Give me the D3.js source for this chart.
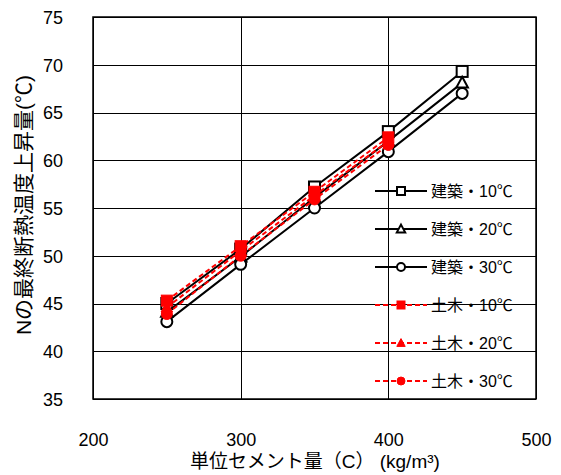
<!DOCTYPE html>
<html>
<head>
<meta charset="utf-8">
<script src="https://cdn.jsdelivr.net/npm/d3@7"></script>
<style>
  html, body { margin: 0; padding: 0; background: #fff; }
  svg { display: block; }
  text { font-family: "Liberation Sans", "Noto Sans CJK JP", sans-serif; fill: #000; }
</style>
</head>
<body>
<svg id="chart" width="561" height="475"></svg>
<script>
// Unit cement content (kg/m3)
const cementContent = [250, 300, 350, 400, 450];
const cementContentDoboku = [250, 300, 350, 400];

// Final adiabatic temperature rise (°C)
const kenchiku10 = [45.0, 50.7, 57.2, 63.0, 69.3];
const kenchiku20 = [44.1, 49.9, 56.1, 62.0, 68.1];
const kenchiku30 = [43.1, 49.1, 55.0, 60.9, 67.0];
const doboku10 = [45.3, 51.0, 56.7, 62.4];
const doboku20 = [44.6, 50.5, 56.3, 62.0];
const doboku30 = [43.9, 50.0, 55.9, 61.6];

const seriesNames = ["建築・10℃", "建築・20℃", "建築・30℃", "土木・10℃", "土木・20℃", "土木・30℃"];
const xTicks = [200, 300, 400, 500];
const yTicks = [35, 40, 45, 50, 55, 60, 65, 70, 75];

const series = [
  { name: seriesNames[0], xs: cementContent, ys: kenchiku10, shape: "square", red: false },
  { name: seriesNames[1], xs: cementContent, ys: kenchiku20, shape: "triangle", red: false },
  { name: seriesNames[2], xs: cementContent, ys: kenchiku30, shape: "circle", red: false },
  { name: seriesNames[3], xs: cementContentDoboku, ys: doboku10, shape: "square", red: true },
  { name: seriesNames[4], xs: cementContentDoboku, ys: doboku20, shape: "triangle", red: true },
  { name: seriesNames[5], xs: cementContentDoboku, ys: doboku30, shape: "circle", red: true }
];

const svg = d3.select("#chart");
const plot = { left: 93, right: 536, top: 17, bottom: 399 };

const x = d3.scaleLinear().domain([200, 500]).range([plot.left, plot.right]);
const y = d3.scaleLinear().domain([35, 75]).range([plot.bottom, plot.top]);

// Gridlines
const grid = svg.append("g");
grid.selectAll(".hg").data(yTicks).join("line")
  .attr("x1", plot.left).attr("x2", plot.right)
  .attr("y1", d => Math.round(y(d)) + 0.5).attr("y2", d => Math.round(y(d)) + 0.5)
  .attr("stroke", "#000").attr("stroke-width", 1);
grid.selectAll(".vg").data(xTicks).join("line")
  .attr("y1", plot.top).attr("y2", plot.bottom)
  .attr("x1", d => Math.round(x(d)) + 0.5).attr("x2", d => Math.round(x(d)) + 0.5)
  .attr("stroke", "#000").attr("stroke-width", 1);

// Plot frame
svg.append("rect")
  .attr("x", plot.left).attr("y", plot.top)
  .attr("width", plot.right - plot.left).attr("height", plot.bottom - plot.top)
  .attr("fill", "none").attr("stroke", "#000").attr("stroke-width", 1.5);

// Axes (labels only; frame and grid drawn above)
const xAxis = svg.append("g")
  .attr("transform", `translate(0,${plot.bottom + 31})`)
  .call(d3.axisBottom(x).tickValues(xTicks).tickSize(0).tickFormat(d3.format("d")));
xAxis.select(".domain").remove();
xAxis.selectAll("text").attr("font-size", 18).attr("font-family", "'Liberation Sans', sans-serif");

const yAxis = svg.append("g")
  .attr("transform", `translate(${plot.left - 27},0)`)
  .call(d3.axisLeft(y).tickValues(yTicks).tickSize(0).tickFormat(d3.format("d")));
yAxis.select(".domain").remove();
yAxis.selectAll("text").attr("font-size", 18).attr("font-family", "'Liberation Sans', sans-serif").attr("dy", "0.35em");

// Marker drawing
function marker(g, shape, size, red) {
  const stroke = red ? "#ff0000" : "#000";
  const fill = red ? "#ff0000" : "#fff";
  const h = size / 2;
  if (shape === "square") {
    g.append("rect").attr("x", -h).attr("y", -h).attr("width", size).attr("height", size)
      .attr("fill", fill).attr("stroke", stroke).attr("stroke-width", red ? 1 : 2);
  } else if (shape === "triangle") {
    g.append("path").attr("d", `M0,${-h * 1.1}L${h * 1.05},${h * 0.85}L${-h * 1.05},${h * 0.85}Z`)
      .attr("fill", fill).attr("stroke", stroke).attr("stroke-width", red ? 1 : 2);
  } else {
    g.append("circle").attr("r", h)
      .attr("fill", fill).attr("stroke", stroke).attr("stroke-width", red ? 1 : 2);
  }
}

const line = d3.line().x(d => x(d[0])).y(d => y(d[1]));

// Series lines and markers
series.forEach(s => {
  const pts = s.xs.map((v, i) => [v, s.ys[i]]);
  const g = svg.append("g");
  g.append("path").attr("d", line(pts))
    .attr("fill", "none")
    .attr("stroke", s.red ? "#ff0000" : "#000")
    .attr("stroke-width", 2)
    .attr("stroke-dasharray", s.red ? "5,3" : null);
  pts.forEach(p => {
    const m = g.append("g").attr("transform", `translate(${x(p[0])},${y(p[1])})`);
    marker(m, s.shape, 11, s.red);
  });
});

// Legend
const legendRows = [191, 229, 267, 305, 343, 381];
const legend = svg.append("g");
series.forEach((s, i) => {
  const ly = legendRows[i];
  const g = legend.append("g").attr("transform", `translate(0,${ly})`);
  g.append("line").attr("x1", 375).attr("x2", 427).attr("y1", 0).attr("y2", 0)
    .attr("stroke", s.red ? "#ff0000" : "#000").attr("stroke-width", 2)
    .attr("stroke-dasharray", s.red ? "5,3" : null);
  const m = g.append("g").attr("transform", "translate(401,0)");
  marker(m, s.shape, 8, s.red);
  g.append("text").attr("x", 431).attr("y", 0).attr("dy", "0.35em")
    .attr("font-size", 16).text(s.name);
});

// Axis titles
svg.append("text")
  .attr("x", 315).attr("y", 468)
  .attr("text-anchor", "middle")
  .attr("font-size", 19)
  .text("単位セメント量（C）  (kg/m³)");

svg.append("text")
  .attr("transform", "translate(24,205) rotate(-90)")
  .attr("text-anchor", "middle")
  .attr("dy", "0.35em")
  .attr("font-size", 21)
  .text("Nの最終断熱温度上昇量(℃)");
</script>
</body>
</html>
